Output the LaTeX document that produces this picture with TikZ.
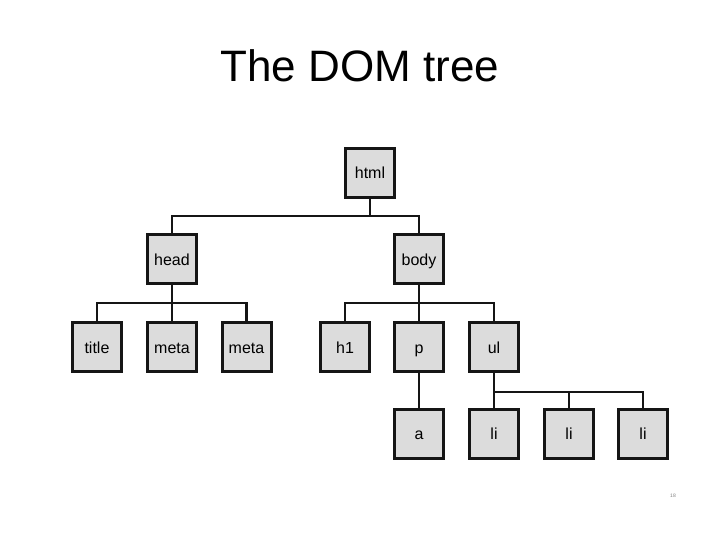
\documentclass[tikz,border=0pt]{standalone}
\usepackage{fontspec}
\setmainfont{Liberation Sans}
\usepackage{xcolor}
\usepackage{tikz}
\definecolor{boxgray}{HTML}{DCDCDC}
\definecolor{linegray}{HTML}{151515}

\begin{document}
\begin{tikzpicture}[
    x=1pt, y=1pt,
    tag/.style={draw=linegray, fill=boxgray, line width=3pt, minimum width=49pt, minimum height=49pt, inner sep=0pt, font=\fontsize{16}{18}\selectfont, text height=12pt, text depth=0pt},
    link/.style={draw=linegray, line width=2.6pt}
]
    \useasboundingbox (0,0) rectangle (720,540);
    \node[anchor=base, font=\fontsize{44}{50}\selectfont] (heading) at (360,458) {The DOM tree};

    % Tree nodes
    \node[tag] (html) at (370,367) {html};
    \node[tag] (head) at (172,280.5) {head};
    \node[tag] (body) at (419,280.5) {body};
    \node[tag] (title) at (97,192.5) {title};
    \node[tag] (meta1) at (172,192.5) {meta};
    \node[tag] (meta2) at (246.5,192.5) {meta};
    \node[tag] (h1) at (345,192.5) {h1};
    \node[tag] (p) at (419,192.5) {p};
    \node[tag] (ul) at (494,192.5) {ul};
    \node[tag] (a) at (419,106) {a};
    \node[tag] (li1) at (494,106) {li};
    \node[tag] (li2) at (569,106) {li};
    \node[tag] (li3) at (643,106) {li};

    % Branch points
    \coordinate (htmlbus) at (370,324);
    \coordinate (headbus) at (172,237);
    \coordinate (bodybus) at (419,237);
    \coordinate (ulbus) at (494,148);

    % Connectors
    \draw[link] (html.south) -- (htmlbus);
    \draw[link] (head.north) |- (htmlbus) -| (body.north);
    \draw[link] (head.south) -- (meta1.north);
    \draw[link] (title.north) |- (headbus) -| (meta2.north);
    \draw[link] (body.south) -- (p.north);
    \draw[link] (h1.north) |- (bodybus) -| (ul.north);
    \draw[link] (p.south) -- (a.north);
    \draw[link] (ul.south) -- (li1.north);
    \draw[link] (ulbus) -| (li2.north);
    \draw[link] (ulbus) -| (li3.north);

    % Slide number
    \node[font=\fontsize{5}{6}\selectfont, text=gray] (slideno) at (673,44) {18};
\end{tikzpicture}
\end{document}
